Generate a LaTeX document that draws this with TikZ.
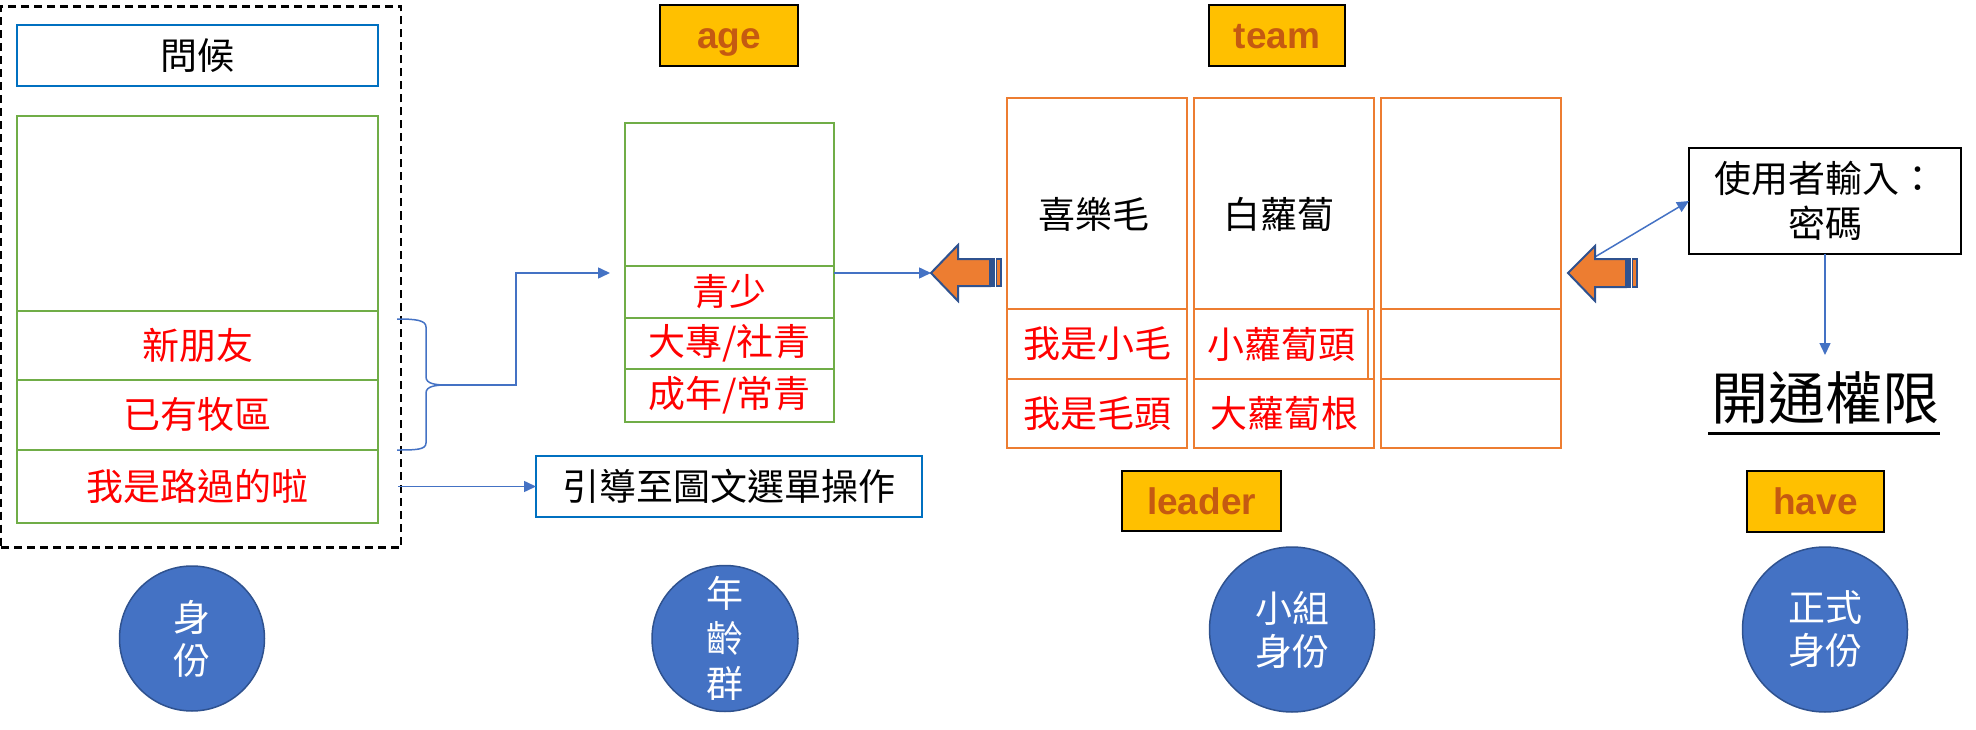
\documentclass[tikz,border=0pt]{standalone}
\usepackage{fontspec}
\setmainfont{Noto Sans CJK TC}
\newfontfamily\latf{Liberation Sans}
\usetikzlibrary{arrows.meta}
\definecolor{cgreen}{HTML}{70AD47}
\definecolor{corange}{HTML}{ED7D31}
\definecolor{cblue}{HTML}{0070C0}
\definecolor{cline}{HTML}{4472C4}
\definecolor{cdark}{HTML}{2F528F}
\definecolor{cyel}{HTML}{FFC000}
\definecolor{ctxt}{HTML}{C55A11}
\definecolor{cred}{HTML}{FF0000}
\begin{document}
\begin{tikzpicture}[x=1pt,y=-1pt,
  every node/.style={inner sep=0pt, outer sep=0pt},
  gbox/.style={draw=cgreen, line width=2.5pt, rectangle},
  obox/.style={draw=corange, line width=2.5pt, rectangle},
  bbox/.style={draw=cblue, line width=2.5pt, rectangle},
  lbl/.style={draw=black, fill=cyel, line width=2.5pt, rectangle, font=\latf\bfseries\fontsize{37}{44}\selectfont, text=ctxt, text height=26pt, text depth=0pt},
  txt/.style={font=\fontsize{37}{45}\selectfont, align=center},
  rtxt/.style={txt, text=cred},
  circ/.style={circle, fill=cline, draw=cdark, line width=1.5pt, text=white, font=\fontsize{37}{43}\selectfont, align=center},
  conn/.style={draw=cline, line width=1.5pt},
  arr/.style={-{Triangle[length=12pt,width=11pt]}},
  bigarrow/.style={fill=corange, draw=cdark, line width=2pt, line join=miter}
]
\useasboundingbox (0,0) rectangle (1976,730);

% ---- left group ----
\node[draw=black, dash pattern=on 8pt off 5pt, line width=2.5pt, rectangle, minimum width=400, minimum height=541] (grp) at (201,277) {};
\node[bbox, txt, minimum width=361, minimum height=61] (greet) at (197.5,55.5) {問候};
\node[gbox, minimum width=361, minimum height=195] (s0) at (197.5,213.5) {};
\node[gbox, rtxt, minimum width=361, minimum height=69] (s1) at (197.5,345.5) {新朋友};
\node[gbox, rtxt, minimum width=361, minimum height=70] (s2) at (197.5,415) {已有牧區};
\node[gbox, rtxt, minimum width=361, minimum height=73] (s3) at (197.5,486.5) {我是路過的啦};

% ---- age column ----
\node[lbl, minimum width=138, minimum height=61] (age) at (729,35.5) {age};
\node[gbox, minimum width=209, minimum height=143] (a0) at (729.5,194.5) {};
\node[gbox, rtxt, minimum width=209, minimum height=52] (a1) at (729.5,292) {青少};
\node[gbox, rtxt, minimum width=209, minimum height=51] (a2) at (729.5,343.5) {大專/社青};
\node[gbox, rtxt, minimum width=209, minimum height=53] (a3) at (729.5,395.5) {成年/常青};

\node[bbox, txt, minimum width=386, minimum height=61] (guide) at (729,486.5) {引導至圖文選單操作};

% ---- team columns ----
\node[lbl, minimum width=136, minimum height=61] (team) at (1277,35.5) {team};
\node[obox, minimum width=180, minimum height=350] (c1) at (1097,273) {};
\node[obox, minimum width=180, minimum height=350] (c2) at (1284,273) {};
\node[obox, minimum width=180, minimum height=350] (c3) at (1471,273) {};
\node[obox, minimum width=180, minimum height=211] (c1t) at (1097,203.5) {};
\node[obox, minimum width=180, minimum height=211] (c2t) at (1284,203.5) {};
\node[obox, minimum width=180, minimum height=211] (c3t) at (1471,203.5) {};
\node[txt] (n1) at (1094,214) {喜樂毛};
\node[txt] (n2) at (1279,214) {白蘿蔔};
\node[obox, rtxt, minimum width=180, minimum height=70] (c1m) at (1097,344) {我是小毛};
\node[obox, rtxt, minimum width=174, minimum height=70] (c2m) at (1281,344) {小蘿蔔頭};
\node[obox, minimum width=180, minimum height=70] (c3m) at (1471,344) {};
\node[obox, rtxt, minimum width=180, minimum height=69] (c1b) at (1097,413.5) {我是毛頭};
\node[obox, rtxt, minimum width=180, minimum height=69] (c2b) at (1284,413.5) {大蘿蔔根};
\node[obox, minimum width=180, minimum height=69] (c3b) at (1471,413.5) {};
\node[lbl, minimum width=159, minimum height=60] (leader) at (1201.5,501) {leader};

% ---- right part ----
\node[draw=black, line width=2.5pt, rectangle, txt, minimum width=272, minimum height=106] (pw) at (1825,201) {使用者輸入：\\密碼};
\node[font=\fontsize{57}{60}\selectfont] (perm) at (1825,398) {開通權限};
\draw[line width=3pt] (1708,433) -- (1940,433);
\node[lbl, minimum width=137, minimum height=61] (have) at (1815.5,501.5) {have};

% ---- circles ----
\node[circ, minimum size=145] (k1) at (192,638.5) {身\\份};
\node[circ, minimum size=146, font=\fontsize{37}{45}\selectfont] (k2) at (725,638.5) {年\\齡\\群};
\node[circ, minimum size=165] (k3) at (1292,629.5) {小組\\身份};
\node[circ, minimum size=165] (k4) at (1825,629.5) {正式\\身份};

% ---- coordinates ----
\coordinate (bt) at (447,385);
\coordinate (agein) at (610,273);
\coordinate (ageout) at (834,273);
\coordinate (a1tip) at (931,273);
\coordinate (a2tip) at (1568,273);
\coordinate (grpout) at (398,486.5);
\coordinate (pwdown) at (1825,355);

% brace
\draw[conn] (397,319) .. controls (415,319) and (426,320) .. (426,327) -- (426,377)
  .. controls (426,384) and (436,385) .. (bt)
  .. controls (436,385) and (426,386) .. (426,393) -- (426,443)
  .. controls (426,450) and (415,450) .. (397,450);

% connectors
\draw[conn, arr] (bt) -- ++(69,0) |- (agein);
\draw[conn, arr] (ageout) -- (a1tip);
\draw[conn, arr] (grpout) -- (guide.west);
\draw[conn, arr] (a2tip) -- (pw.west);
\draw[conn, arr] (pw.south) -- (pwdown);

% striped block arrows
\draw[bigarrow] (a1tip) -- (958,245) -- (958,259) -- (990,259) -- (990,286) -- (958,286) -- (958,301) -- cycle;
\draw[bigarrow, line width=1.2pt] (992,259) rectangle (994,286);
\draw[bigarrow, line width=1.2pt] (996.5,259) rectangle (1001,286);
\draw[bigarrow] (a2tip) -- (1595,246) -- (1595,259) -- (1626,259) -- (1626,287) -- (1595,287) -- (1595,301) -- cycle;
\draw[bigarrow, line width=1.2pt] (1628,259) rectangle (1630,287);
\draw[bigarrow, line width=1.2pt] (1632.5,259) rectangle (1637,287);
\end{tikzpicture}
\end{document}
